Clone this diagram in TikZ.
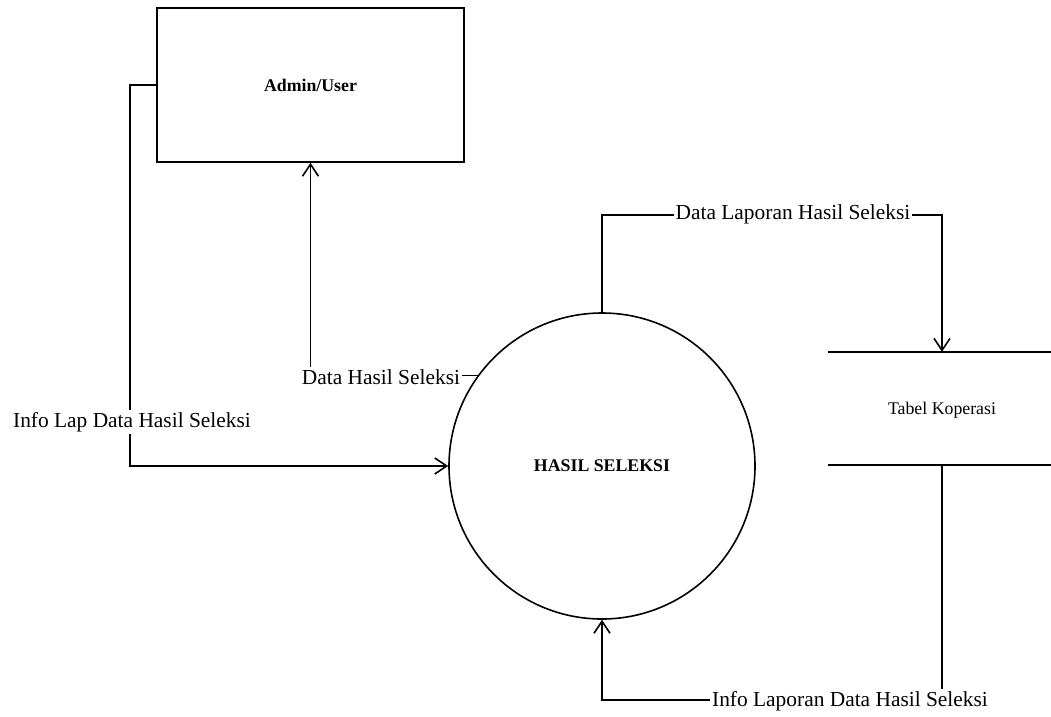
\documentclass[tikz,border=0pt]{standalone}
\usepackage{fontspec}
\setmainfont{Liberation Serif}
\usetikzlibrary{arrows.meta}
\begin{document}
\begin{tikzpicture}[x=1pt,y=-1pt,
  flow/.style={line width=1.6pt,
    -{Straight Barb[length=12pt,width=16pt,line width=1.6pt]}},
  rule/.style={line width=1.6pt},
  lbl/.style={fill=white, inner sep=2pt, font=\fontsize{21.4}{24}\selectfont},
  small/.style={font=\fontsize{17.8}{20}\selectfont},
  smallbold/.style={font=\fontsize{17.8}{20}\selectfont\bfseries}]
\useasboundingbox (0,0) rectangle (1051,716);

% external entity
\node[draw, line width=1.6pt, minimum width=307pt, minimum height=154pt,
      inner sep=0pt, smallbold] (admin) at (310.5,85) {Admin/User};

% process
\node[circle, draw, line width=1.6pt, minimum size=306pt, inner sep=0pt,
      smallbold] (proc) at (602,466) {HASIL SELEKSI};

% data store
\node[minimum width=223pt, minimum height=113pt, inner sep=0pt]
      (store) at (939.5,408.5) {};
\node[small] (storetext) at (942,410) {Tabel Koperasi};
\draw[rule] (store.north west) -- (store.north east);
\draw[rule] (store.south west) -- (store.south east);

% bend points
\coordinate (c3) at (942,215);
\coordinate (c4) at (942,700);

% flows
\draw[flow] (admin.west) -- ++(-26,0) |- (proc.west);
\node[lbl] (l1) at (132,422) {Info Lap Data Hasil Seleksi};

\draw[flow] (proc.144.9) -| (admin.south);
\node[lbl] (l2) at (381,377) {Data Hasil Seleksi};

\draw[flow] (proc.north) |- (c3) -- (c3 |- store.north);
\node[lbl] (l3) at (793,214) {Data Laporan Hasil Seleksi};

\draw[flow] (c4 |- store.south) -- (c4) -| (proc.south);
\node[lbl] (l4) at (850,701) {Info Laporan Data Hasil Seleksi};
\end{tikzpicture}
\end{document}
